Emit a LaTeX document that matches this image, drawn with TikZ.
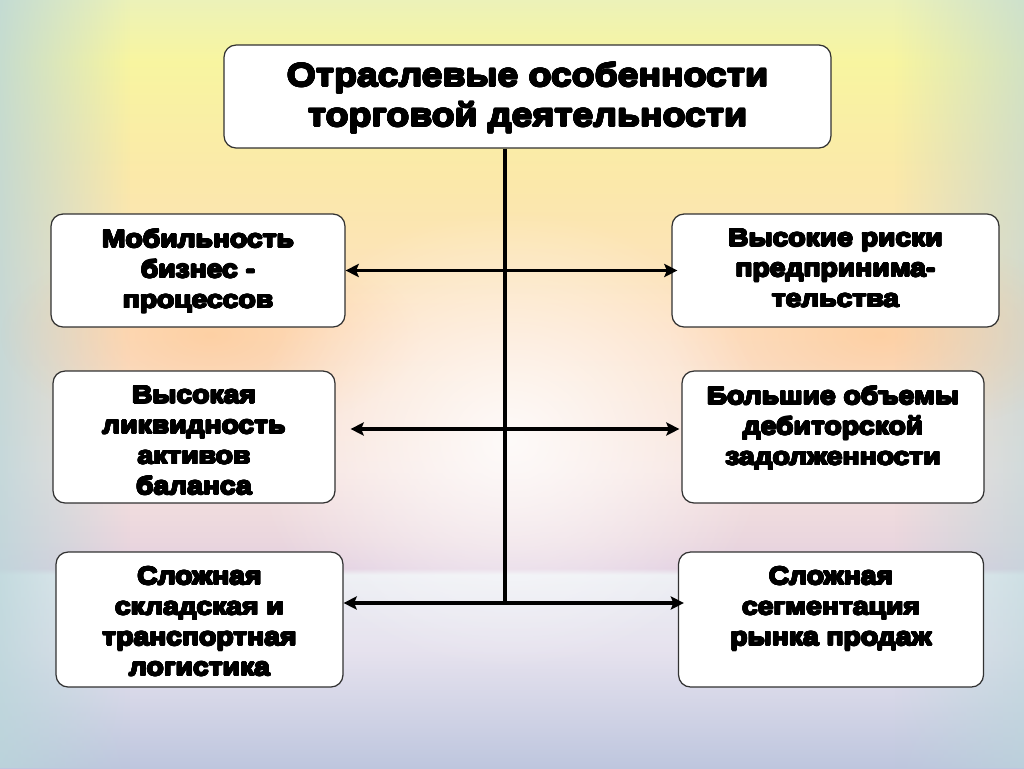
\documentclass[tikz,border=0pt]{standalone}
\usepackage{fontspec}
\usepackage[copies]{contour}
\contourlength{0.45pt}
\contournumber{16}
\setmainfont{Liberation Sans}
\newfontfamily\heavy{Liberation Sans Bold}[FakeStretch=1.15]
\usetikzlibrary{arrows.meta,fadings}
\tikzfading[name=glow, inner color=transparent!0, outer color=transparent!100]
\definecolor{bord}{RGB}{50,50,50}
\definecolor{c0}{RGB}{190,198,222}
\definecolor{c1}{RGB}{230,226,238}
\definecolor{c2}{RGB}{236,238,243}
\definecolor{c3}{RGB}{226,207,224}
\definecolor{c4}{RGB}{234,214,222}
\definecolor{c5}{RGB}{246,226,222}
\definecolor{c6}{RGB}{253,224,196}
\definecolor{c7}{RGB}{251,232,170}
\definecolor{c8}{RGB}{248,245,160}
\definecolor{c9}{RGB}{236,242,184}
\definecolor{edge}{RGB}{186,214,218}
\pgfdeclareverticalshading{bgshade}{100bp}{color(0bp)=(c0); color(25bp)=(c0); color(32.7bp)=(c1); color(37.6bp)=(c2); color(38bp)=(c3); color(39.8bp)=(c4); color(44.4bp)=(c5); color(53.5bp)=(c6); color(63bp)=(c7); color(71bp)=(c8); color(75bp)=(c9); color(100bp)=(c9)}
\newcommand{\hv}[1]{\contour{black}{#1}}
\newcommand{\bt}[3]{\parbox[c][#1][t]{#2}{\centering\vspace*{8.7pt}\heavy\fontsize{14}{17.3}\selectfont #3\par}}
\begin{document}
\begin{tikzpicture}[x=0.02cm,y=-0.02cm,
  box/.style={draw=bord, fill=white, rounded corners=0.24cm, line width=0.7pt, inner sep=0pt},
  conn/.style={line width=2pt, black},
  arr/.style={conn, {Stealth[length=7.5pt,width=7.5pt,inset=1.5pt]}-{Stealth[length=7.5pt,width=7.5pt,inset=1.5pt]}}]
\useasboundingbox (0,0) rectangle (1024,768);
% background
\shade[shading=bgshade] (0,0) rectangle (1024,768);
\fill[edge, path fading=east, opacity=0.8] (0,0) rectangle (130,768);
\fill[edge, path fading=west, opacity=0.6] (894,0) rectangle (1024,768);
\fill[orange!55, path fading=glow, opacity=0.4] (210,335) ellipse (210 and 100);
\fill[orange!55, path fading=glow, opacity=0.4] (880,335) ellipse (210 and 100);
\fill[white, path fading=glow, opacity=0.85] (510,440) ellipse (260 and 230);
% boxes
\node[box] (top) at (527.5,96.5) {\parbox[c][2.06cm][t]{12.14cm}{\centering\vspace*{10pt}\heavy\fontsize{18.5}{22.7}\selectfont \hv{Отраслевые особенности}\\\hv{торговой деятельности}\par}};
\node[box] (L1) at (198,270.5) {\bt{2.26cm}{5.88cm}{\hv{Мобильность}\\\hv{бизнес -}\\\hv{процессов}}};
\node[box] (R1) at (835.5,270.5) {\bt{2.26cm}{6.54cm}{\hv{Высокие риски}\\\hv{предпринима-}\\\hv{тельства}}};
\node[box] (L2) at (194,437) {\bt{2.64cm}{5.64cm}{\hv{Высокая}\\\hv{ликвидность}\\\hv{активов}\\\hv{баланса}}};
\node[box] (R2) at (833,437) {\bt{2.64cm}{6.04cm}{\hv{Большие объемы}\\\hv{дебиторской}\\\hv{задолженности}}};
\node[box] (L3) at (199.5,619.5) {\bt{2.70cm}{5.74cm}{\hv{Сложная}\\\hv{складская и}\\\hv{транспортная}\\\hv{логистика}}};
\node[box] (R3) at (831,619.5) {\bt{2.70cm}{6.10cm}{\hv{Сложная}\\\hv{сегментация}\\\hv{рынка продаж}}};
% connectors
\coordinate (j) at (505,603);
\draw[conn] (top.south -| j) -- (j);
\draw[arr] (L1.east) -- ([shift={(6,0)}]R1.west);
\draw[arr] ([shift={(15,-8)}]L2.east) -- ([shift={(-2,-8)}]R2.west);
\draw[arr] ([shift={(0,-16.5)}]L3.east) -- ([shift={(6,-16.5)}]R3.west);
\end{tikzpicture}
\end{document}
